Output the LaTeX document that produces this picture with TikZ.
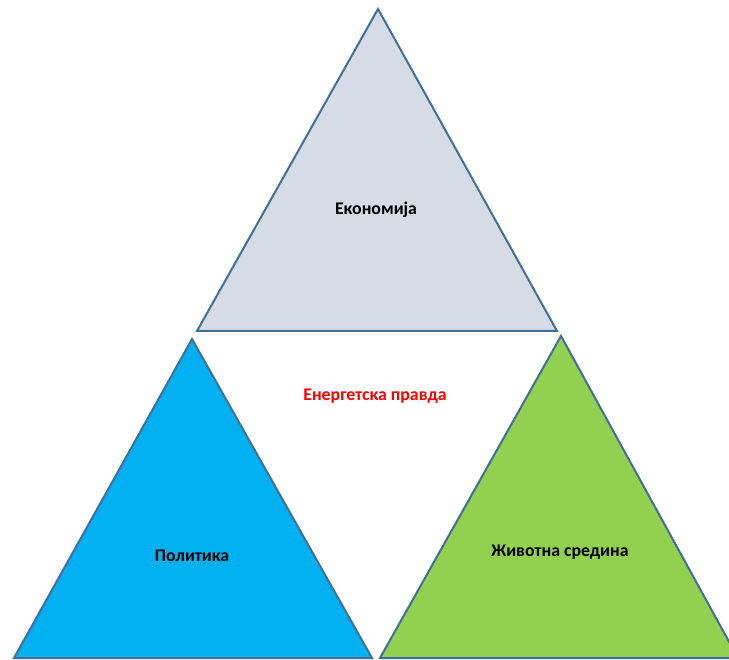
\documentclass[tikz,border=0pt]{standalone}
\usepackage{fontspec}
\setmainfont{Carlito}
\usepackage{tikz}
\usetikzlibrary{positioning}
\tikzstyle{canvas} = [x = 1pt, y = -1pt]
\definecolor{edgeColor}{RGB}{65,110,155}
\definecolor{economyFill}{RGB}{214,220,229}
\definecolor{policyFill}{RGB}{0,176,240}
\definecolor{natureFill}{RGB}{146,208,80}
\definecolor{justiceColor}{RGB}{255,0,0}
\tikzstyle{pillarStyle} = [draw=edgeColor, line width=2pt, line join=miter]
\tikzstyle{pillarText} = [font=\fontsize{17.8}{20}\selectfont\bfseries, text=black]
\tikzstyle{justiceText} = [font=\fontsize{17.8}{20}\selectfont\bfseries, text=justiceColor]
\newcommand{\pillar}[7]{\filldraw [pillarStyle, fill=#7] (#1,#2) -- (#3,#4) -- (#5,#6) -- cycle;}

\begin{document}
\begin{tikzpicture}[canvas]
    \useasboundingbox (0,0) rectangle (729,660);
    \clip (0,0) rectangle (729,660);
    \pillar{378}{9}{557}{331}{197}{331}{economyFill}
    \pillar{192}{339}{372}{658}{14}{658}{policyFill}
    \pillar{561}{336}{738}{658}{380}{658}{natureFill}
    \node [pillarText] (economy) at (376,210) {Економија};
    \node [justiceText] (justice) at (375,396) {Енергетска правда};
    \node [pillarText] (policy) at (192,556) {Политика};
    \node [pillarText] (nature) at (560,552) {Животна средина};
\end{tikzpicture}
\end{document}
